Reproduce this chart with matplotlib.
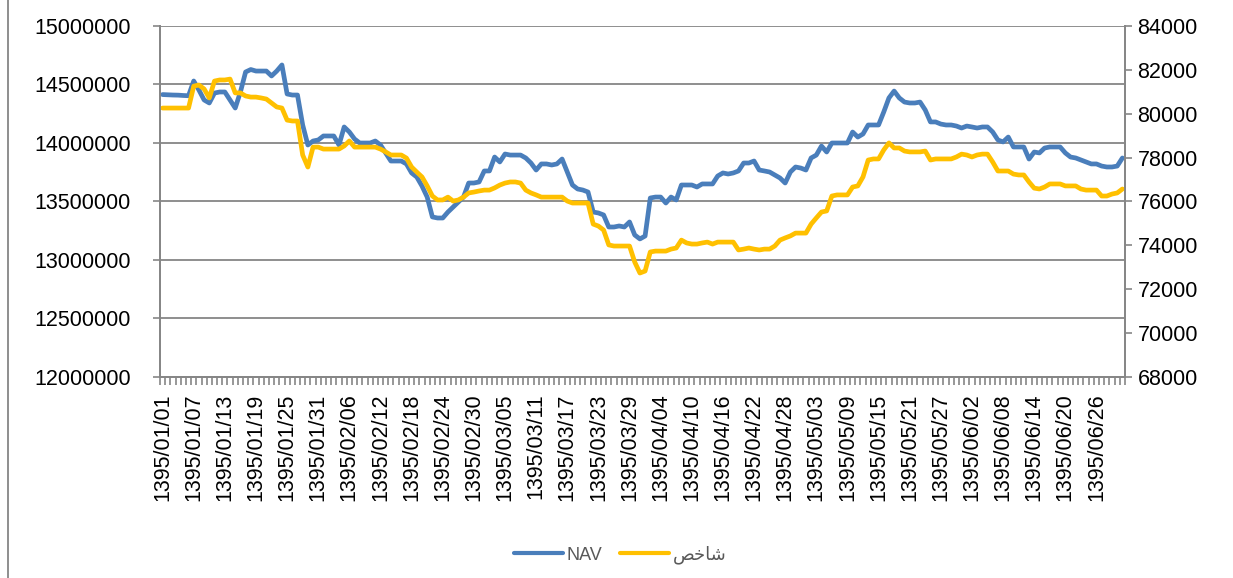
import matplotlib
matplotlib.use("Agg")
import matplotlib.pyplot as plt
from matplotlib.lines import Line2D
from matplotlib.ticker import MultipleLocator, FixedLocator, FuncFormatter

# Fechas (calendario persa, 6 meses de 31 dias)
fechas = [f"1395/{m:02d}/{d:02d}" for m in range(1, 7) for d in range(1, 32)]

# NAV del fondo (eje izquierdo)
nav = [
    14414000, 14412000, 14410000, 14409000, 14406000, 14404000, 14530000, 14453000, 14368000, 14342000,
    14427000, 14436000, 14436000, 14368000, 14299000, 14436000, 14607000, 14628000, 14615000, 14615000,
    14615000, 14573000, 14615000, 14667000, 14419000, 14410000, 14410000, 14154000, 13983000, 14017000,
    14026000,
    14060000, 14060000, 14060000, 13983000, 14137000, 14094000, 14034000, 14000000, 14000000, 14000000,
    14017000, 13983000, 13915000, 13846000, 13846000, 13846000, 13821000, 13744000, 13709000, 13632000,
    13538000, 13368000, 13359000, 13359000, 13410000, 13453000, 13496000, 13538000, 13658000, 13658000,
    13667000,
    13761000, 13761000, 13880000, 13838000, 13906000, 13897000, 13897000, 13897000, 13872000, 13829000,
    13769000, 13821000, 13821000, 13812000, 13821000, 13863000, 13752000, 13641000, 13607000, 13598000,
    13581000, 13410000, 13402000, 13385000, 13282000, 13282000, 13291000, 13282000, 13325000, 13214000,
    13180000,
    13205000, 13530000, 13538000, 13538000, 13487000, 13538000, 13513000, 13641000, 13641000, 13641000,
    13624000, 13650000, 13650000, 13650000, 13718000, 13744000, 13735000, 13744000, 13761000, 13829000,
    13829000, 13846000, 13769000, 13761000, 13752000, 13727000, 13701000, 13658000, 13752000, 13795000,
    13786000,
    13769000, 13872000, 13897000, 13974000, 13923000, 14000000, 14000000, 14000000, 14000000, 14094000,
    14051000, 14077000, 14154000, 14154000, 14154000, 14265000, 14385000, 14444000, 14385000, 14350000,
    14342000, 14342000, 14350000, 14282000, 14180000, 14180000, 14162000, 14154000, 14154000, 14145000,
    14128000,
    14145000, 14137000, 14128000, 14137000, 14137000, 14094000, 14026000, 14009000, 14051000, 13966000,
    13966000, 13966000, 13863000, 13923000, 13915000, 13957000, 13966000, 13966000, 13966000, 13915000,
    13880000, 13872000, 13855000, 13838000, 13821000, 13821000, 13803000, 13795000, 13795000, 13803000,
    13872000,
]

# Indice (eje derecho)
indice = [
    80260, 80260, 80260, 80260, 80260, 80260, 81260, 81310, 81130, 80720,
    81490, 81540, 81540, 81580, 80950, 80950, 80810, 80760, 80760, 80720,
    80670, 80490, 80310, 80260, 79710, 79670, 79670, 78120, 77570, 78480,
    78480,
    78390, 78390, 78390, 78390, 78530, 78760, 78480, 78480, 78480, 78480,
    78480, 78390, 78260, 78120, 78120, 78120, 77980, 77570, 77340, 77120,
    76710, 76250, 76070, 76070, 76200, 76020, 76070, 76200, 76390, 76430,
    76480,
    76520, 76520, 76620, 76750, 76840, 76890, 76890, 76840, 76520, 76390,
    76300, 76200, 76200, 76200, 76200, 76200, 76020, 75930, 75930, 75930,
    75930, 74970, 74880, 74700, 74020, 73970, 73970, 73970, 73970, 73240,
    72740,
    72830, 73700, 73740, 73740, 73740, 73830, 73880, 74240, 74110, 74060,
    74060, 74110, 74150, 74060, 74150, 74150, 74150, 74150, 73790, 73830,
    73880, 73830, 73790, 73830, 73830, 73970, 74240, 74340, 74430, 74560,
    74560,
    74560, 74970, 75250, 75520, 75570, 76250, 76300, 76300, 76300, 76660,
    76710, 77120, 77890, 77940, 77940, 78350, 78670, 78440, 78440, 78300,
    78260, 78260, 78260, 78300, 77890, 77940, 77940, 77940, 77940, 78030,
    78160,
    78120, 78030, 78120, 78160, 78160, 77800, 77390, 77390, 77390, 77250,
    77210, 77210, 76890, 76610, 76570, 76660, 76800, 76800, 76800, 76710,
    76710, 76710, 76570, 76520, 76520, 76520, 76250, 76250, 76340, 76390,
    76570,
]

nombre_nav = "NAV"
nombre_indice = "شاخص"
# forma visual (letras ya unidas, de izquierda a derecha) para que se vea bien
nombre_indice_visual = "\ufeba\ufea7\ufe8e\ufeb7"

gris = "#868686"
plt.rcParams['font.family'] = ['Liberation Sans', 'DejaVu Sans']

fig = plt.figure(figsize=(12.33, 5.78), dpi=100)
ax1 = fig.add_axes([160 / 1233, 1 - 377 / 578, (1125 - 160) / 1233, (377 - 26) / 578])
ax2 = ax1.twinx()

x = list(range(len(fechas)))
l1, = ax1.plot(x, nav, color="#4A7EBB", lw=3.4, solid_joinstyle="round", solid_capstyle="round")
l2, = ax2.plot(x, indice, color="#FFC000", lw=3.4, solid_joinstyle="round", solid_capstyle="round")

ax1.set_xlim(-0.5, len(fechas) - 0.5)
ax1.set_ylim(12000000, 15000000)
ax2.set_ylim(68000, 84000)
ax1.yaxis.set_major_locator(MultipleLocator(500000))
ax2.yaxis.set_major_locator(MultipleLocator(2000))
entero = FuncFormatter(lambda v, p: f"{v:.0f}")
ax1.yaxis.set_major_formatter(entero)
ax2.yaxis.set_major_formatter(entero)
ax1.grid(axis="y", color=gris, lw=1.3)
ax1.set_axisbelow(True)

ax1.set_xticks(x[::6])
ax1.set_xticklabels(fechas[::6], rotation=90, va="top", ha="center")
ax1.xaxis.set_minor_locator(FixedLocator([i - 0.5 for i in range(len(fechas) + 1)]))

for ax in (ax1, ax2):
    for s in ax.spines.values():
        s.set_color(gris)
        s.set_linewidth(1.3)
    ax.spines["top"].set_visible(False)
    ax.tick_params(colors="black", labelsize=15.5)
    ax.tick_params(which="both", color=gris, width=1.2, length=5)

ax1.tick_params(axis="x", which="major", length=0, pad=12)
ax1.tick_params(axis="x", which="minor", length=6)
ax1.tick_params(axis="y", pad=16)
ax2.tick_params(axis="y", pad=4)

leg = fig.legend([l1, l2], [nombre_nav, nombre_indice_visual], loc="center",
                 bbox_to_anchor=(620 / 1233, 1 - 555 / 578), ncol=2, frameon=False,
                 fontsize=13, handlelength=2.7, handletextpad=0.2, columnspacing=1.0)
for t in leg.get_texts():
    t.set_color("#595959")
for h in leg.legend_handles:
    h.set_linewidth(3)

fig.add_artist(Line2D([8 / 1233, 8 / 1233], [0, 1], color=gris, lw=1.3))

fig.savefig("out.png", dpi=100)
